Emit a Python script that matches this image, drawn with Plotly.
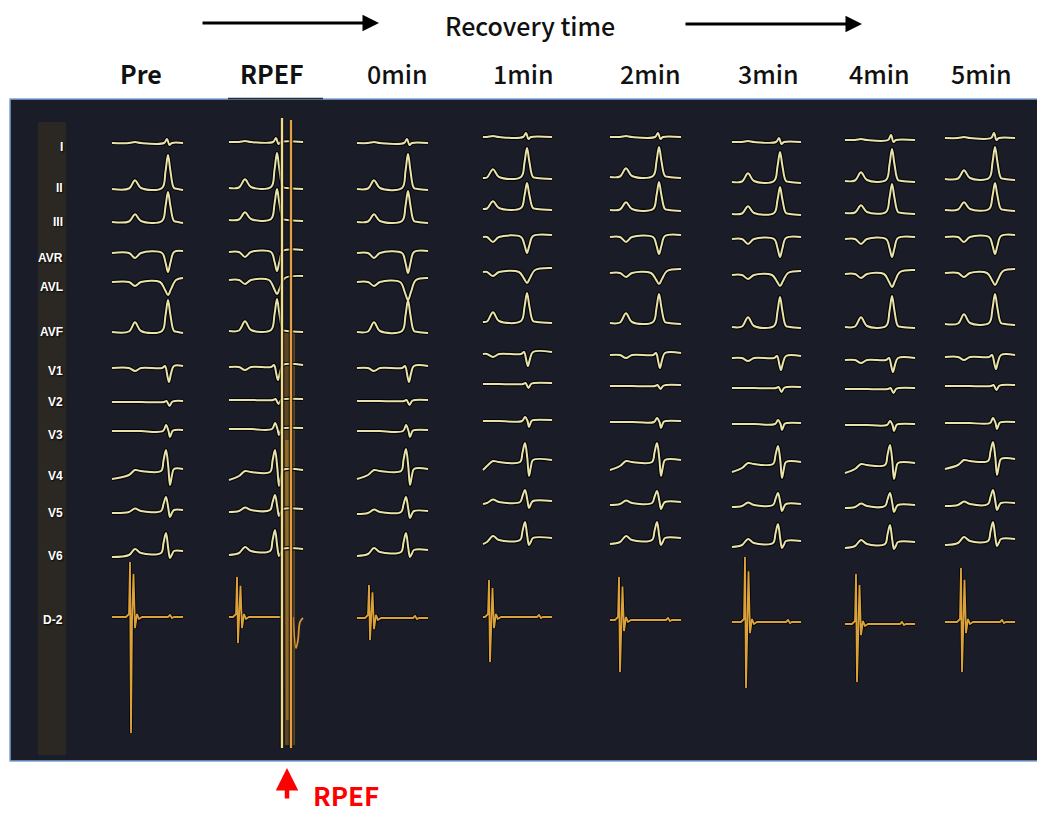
import plotly.graph_objects as go

# ---------------- data ----------------
COLUMNS = ["Pre", "RPEF", "0min", "1min", "2min", "3min", "4min", "5min"]
LEADS = ["I", "II", "III", "AVR", "AVL", "AVF", "V1", "V2", "V3", "V4", "V5", "V6"]
ROW_LABELS = LEADS + ["D-2"]

# isoelectric level of every lead in every column (panel pixels, y grows downward)
BASE_PRE = [143, 188, 221, 253, 282, 331, 368, 402, 431, 471, 511, 553]
BASE_RPEF = [142, 187, 219, 252, 280, 330, 367, 400, 429, 472, 510, 551]
BASE_0MIN = [143, 188, 221, 253, 282, 331, 368, 401, 431, 471, 512, 552]
BASE_1MIN = [137, 177, 208, 237, 272, 321, 354, 384, 421, 462, 502, 540]
BASE_2MIN = [137, 176, 209, 237, 273, 322, 355, 386, 422, 462, 503, 540]
BASE_3MIN = [142, 181, 213, 239, 275, 326, 358, 388, 424, 464, 505, 543]
BASE_4MIN = [140, 180, 212, 239, 274, 326, 360, 389, 425, 465, 506, 544]
BASE_5MIN = [138, 178, 209, 237, 273, 323, 357, 386, 423, 461, 504, 541]
BASELINES = [BASE_PRE, BASE_RPEF, BASE_0MIN, BASE_1MIN, BASE_2MIN, BASE_3MIN, BASE_4MIN, BASE_5MIN]

# main QRS deflection of each lead, per column (px, + = upward)
QRS_I = [4, 4, 4, 4, 4, 4, 5, 5]
QRS_II = [33, 34, 34, 29, 29, 29, 31, 31]
QRS_III = [29, 30, 30, 25, 27, 26, 28, 26]
QRS_AVR = [-19, -19, -20, -16, -17, -18, -18, -17]
QRS_AVL = [-13, -14, -18, -11, -11, -11, -13, -12]
QRS_AVF = [31, 31, 31, 28, 28, 29, 30, 29]
QRS_V1 = [-14, -13, -14, -12, -13, -12, -12, -12]
QRS_V2 = [-4, -4, -4, -4, -3, -4, -4, -4]
QRS_V3 = [6, 6, 6, 4, 4, 4, 4, 5]
QRS_V4 = [21, 22, 22, 19, 19, 18, 20, 19]
QRS_V5 = [14, 15, 15, 12, 12, 12, 13, 14]
QRS_V6 = [20, 21, 19, 18, 18, 19, 19, 19]
QRS = [QRS_I, QRS_II, QRS_III, QRS_AVR, QRS_AVL, QRS_AVF,
       QRS_V1, QRS_V2, QRS_V3, QRS_V4, QRS_V5, QRS_V6]

P_WAVE = [1, 8, 7, -5, -4, 9, -3, 0, 0, 3, 3, 5]           # P wave (px)
S_WAVE = [-2, 0, 0, 0, 0, 0, 0, 0, -6, -14, -6, -5]        # S wave (px)
START_DRIFT = [0, -1, -1, 0, 0, -1, 0, 0, 0, -8, -2, -4]   # level at trace start
END_LEVEL = [0, -2, -2, 2, 4, -2, 2, 1, 1, 2, 1, 2]        # level at trace end

# D-2 (intracardiac) channel per column
D2_BASE = [617, 617, 618, 617, 620, 622, 624, 622]
D2_TOP = [562, 577, 585, 580, 577, 557, 574, 568]
D2_BOTTOM = [733, 643, 640, 662, 672, 688, 682, 672]

# RPEF artefact (two saturated deflections)
RPEF_LINE_TOP = [118, 120]
RPEF_LINE_BOTTOM = [748, 748]

# ---------------- layout of the panel (pixels) ----------------
COL_X0 = [112, 229, 357, 483, 610, 732, 845, 945]
COL_X1 = [183, 303, 428, 552, 681, 801, 915, 1015]
COL_P = [135, 245, 374, 493, 626, 748, 861, 964]
COL_Q = [168, 277, 408, 527, 659, 780, 892, 995]
D2_SPIKE_X = [131, 238, 370, 490, 620, 746, 857, 962]
RPEF_LINE_X = [282, 291]
LABEL_Y = [147, 188, 222, 258, 287, 332, 371, 402, 435, 476, 513, 556, 620]
HEADER_X = [141, 272, 397, 523, 650, 768, 879, 981]

LEAD_TYPE = ["I", "R", "R", "Q", "L", "R", "V1", "V2", "V3", "RS", "RS", "RS"]


def lead_knots(li, ci):
    x0, x1, p, q = COL_X0[ci], COL_X1[ci], COL_P[ci], COL_Q[ci]
    R = QRS[li][ci]
    P = P_WAVE[li]
    S = S_WAVE[li]
    s0 = START_DRIFT[li]
    e = END_LEVEL[li]
    t = LEAD_TYPE[li]
    k = [(x0, s0), (p - 6, s0 * 0.5), (p, s0 * 0.25 + P), (p + 6, 0)]
    if t == "R":
        k += [(q - 6, 0), (q - 2.5, 0.5 * R), (q, R), (q + 2.5, 0.5 * R), (q + 6, 0), (q + 10, -1), (x1, e)]
    elif t == "I":
        k += [(q - 4, 0), (q - 1, R), (q + 1.5, S), (q + 4, 0), (x1, e)]
    elif t == "Q":
        k += [(q - 6, 0), (q - 2.5, 0.5 * R), (q, R), (q + 2.5, 0.5 * R), (q + 6, 1), (x1, e)]
    elif t == "L":
        k += [(q - 8, 0), (q - 3, 0.6 * R), (q, R), (q + 3, 0.55 * R), (q + 8, 2), (x1, e)]
    elif t == "V1":
        k += [(q - 6, 0), (q - 3, 2), (q - 0.5, 0.6 * R), (q + 1, R), (q + 3, 0.4 * R), (q + 6, 2), (x1, e)]
    elif t == "V2":
        k += [(q - 4, 0), (q - 1.5, 1), (q + 1.5, R), (q + 4, 0), (q + 7, 1), (x1, e)]
    elif t == "V3":
        k += [(q - 5, 0), (q - 2, R), (q + 0.5, 0), (q + 2, S), (q + 4.5, 0), (q + 7, 1), (x1, e)]
    else:  # RS
        k += [(q - 7, 0), (q - 4.5, 0.5 * R), (q - 2, R), (q + 0.3, 0.2 * R), (q + 2, S),
              (q + 4, 0.3 * S), (q + 6, e), (x1, e)]
    b = BASELINES[ci][li]
    return [x for x, _ in k], [b - v for _, v in k]


def d2_points(ci):
    x0, x1, sx = COL_X0[ci], COL_X1[ci], D2_SPIKE_X[ci]
    b, top, bot = D2_BASE[ci], D2_TOP[ci], D2_BOTTOM[ci]
    top2 = b - 0.78 * (b - top)
    pts = [(x0, b), (sx - 5, b), (sx - 2, b - 3), (sx - 1, top), (sx, bot), (sx + 1, b + 4),
           (sx + 2.5, top2), (sx + 4, b + 11), (sx + 6, b - 3), (sx + 8, b + 2), (sx + 11, b),
           (x1 - 15, b), (x1 - 13, b - 2), (x1 - 11, b + 1), (x1 - 9, b), (x1, b)]
    if COLUMNS[ci] == "RPEF":
        pts = [pp for pp in pts if pp[0] < RPEF_LINE_X[0]]
        pts += [(RPEF_LINE_X[0], b)]
    return [x for x, _ in pts], [y for _, y in pts]


# ---------------- build figure ----------------
fig = go.Figure()

ecg_x, ecg_y = [], []
for ci in range(len(COLUMNS)):
    for li in range(len(LEADS)):
        xs, ys = lead_knots(li, ci)
        ecg_x += xs + [None]
        ecg_y += ys + [None]

d2_x, d2_y = [], []
for ci in range(len(COLUMNS)):
    xs, ys = d2_points(ci)
    d2_x += xs + [None]
    d2_y += ys + [None]

# RPEF artefact smear (translucent glow between the two saturated lines)
fig.add_trace(go.Scatter(
    x=[284, 295, 295, 285, 284], y=[330, 330, 745, 745, 330],
    mode="lines", fill="toself", fillcolor="rgba(235,160,40,0.32)",
    line=dict(width=0), hoverinfo="skip", showlegend=False))
fig.add_trace(go.Scatter(
    x=[285, 289, 289, 286, 285], y=[440, 440, 720, 720, 440],
    mode="lines", fill="toself", fillcolor="rgba(240,175,50,0.35)",
    line=dict(width=0), hoverinfo="skip", showlegend=False))

# D-2 channel
fig.add_trace(go.Scatter(x=d2_x, y=d2_y, mode="lines",
                         line=dict(color="rgba(0,0,0,0.85)", width=3.6),
                         hoverinfo="skip", showlegend=False))
fig.add_trace(go.Scatter(x=d2_x, y=d2_y, mode="lines",
                         line=dict(color="#dba23c", width=1.8),
                         hoverinfo="skip", showlegend=False))

# RPEF after-deflection in D-2
fig.add_trace(go.Scatter(x=[293, 296, 298, 300, 303], y=[617, 648, 640, 622, 618],
                         mode="lines", line=dict(color="#d8982f", width=1.8, shape="spline"),
                         hoverinfo="skip", showlegend=False))

# surface ECG leads
fig.add_trace(go.Scatter(x=ecg_x, y=ecg_y, mode="lines",
                         line=dict(color="rgba(0,0,0,0.85)", width=4.2, shape="spline", smoothing=1),
                         hoverinfo="skip", showlegend=False))
fig.add_trace(go.Scatter(x=ecg_x, y=ecg_y, mode="lines",
                         line=dict(color="#e9e3ab", width=2, shape="spline", smoothing=1),
                         hoverinfo="skip", showlegend=False))

# RPEF saturated lines
for xv, t0, t1, col in zip(RPEF_LINE_X, RPEF_LINE_TOP, RPEF_LINE_BOTTOM, ["#f0dc8c", "#e0a048"]):
    fig.add_trace(go.Scatter(x=[xv, xv], y=[t0, t1], mode="lines",
                             line=dict(color="rgba(0,0,0,0.8)", width=4.5),
                             hoverinfo="skip", showlegend=False))
    fig.add_trace(go.Scatter(x=[xv, xv], y=[t0, t1], mode="lines",
                             line=dict(color=col, width=2.4),
                             hoverinfo="skip", showlegend=False))

shapes = [
    # dark panel
    dict(type="rect", x0=10, x1=1040, y0=99, y1=761, fillcolor="#1a1d27",
         line=dict(color="#7ea4d6", width=1.5), layer="below"),
    # label strip
    dict(type="rect", x0=38, x1=66, y0=122, y1=755, fillcolor="#2b2824",
         line=dict(width=0), layer="below"),
    # dark bar under the RPEF header
    dict(type="line", x0=228, x1=323, y0=98.5, y1=98.5, line=dict(color="#2a2d38", width=1.5)),
]

annotations = []
HF = "Noto Sans CJK SC"
# header arrows
for xa, xb, yy in [(201, 379, 23), (684, 862, 24)]:
    annotations.append(dict(x=xb, y=yy, ax=xa, ay=yy, xref="x", yref="y", axref="x", ayref="y",
                            text="", showarrow=True, arrowhead=2, arrowsize=1.1, arrowwidth=3,
                            arrowcolor="#000000", standoff=0))
annotations.append(dict(x=530, y=25, xref="x", yref="y", text="Recovery time", showarrow=False,
                        font=dict(family=HF, size=25, color="#111111", weight=500)))
for name, xh in zip(COLUMNS, HEADER_X):
    annotations.append(dict(x=xh, y=73, xref="x", yref="y", text=name, showarrow=False,
                            font=dict(family=HF, size=25, color="#111111",
                                      weight=700 if name in ("Pre", "RPEF") else 500)))
# lead labels
for lab, yl in zip(ROW_LABELS, LABEL_Y):
    annotations.append(dict(x=65, y=yl, xref="x", yref="y", text=lab, showarrow=False,
                            xanchor="right", yanchor="middle",
                            font=dict(family="Liberation Sans", size=12, color="#ffffff",
                                      weight=700, shadow="1px 1px 2px #000000")))
# red RPEF marker
annotations.append(dict(x=287, y=768, ax=287, ay=800, xref="x", yref="y", axref="x", ayref="y",
                        text="", showarrow=True, arrowhead=2, arrowsize=1.0, arrowwidth=4.5,
                        arrowcolor="#ff0000", standoff=0))
annotations.append(dict(x=311, y=794, xref="x", yref="y", text="RPEF", showarrow=False,
                        xanchor="left", yanchor="middle",
                        font=dict(family=HF, size=26, color="#ff0000", weight=700)))

fig.update_layout(
    width=1037, height=814,
    margin=dict(l=0, r=0, t=0, b=0),
    paper_bgcolor="#ffffff", plot_bgcolor="#ffffff",
    xaxis=dict(range=[0, 1037], visible=False, fixedrange=True),
    yaxis=dict(range=[814, 0], visible=False, fixedrange=True),
    shapes=shapes, annotations=annotations, showlegend=False,
)

fig.write_html("out.html")
